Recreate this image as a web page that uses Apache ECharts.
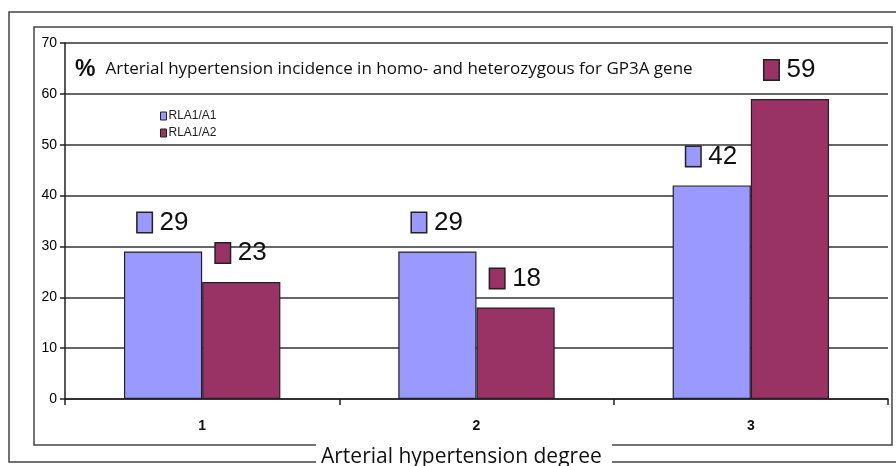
<!DOCTYPE html>
<html><head><meta charset="utf-8">
<script src="https://cdn.jsdelivr.net/npm/echarts@6/dist/echarts.min.js"></script>
<style>html,body{margin:0;padding:0;background:#fff}#c{width:896px;height:466px}</style>
</head><body><div id="c"></div>
<script>
const categories = ['1', '2', '3'];
const seriesNames = ['RLA1/A1', 'RLA1/A2'];
const valuesA1 = [29, 29, 42];
const valuesA2 = [23, 18, 59];
const yTicks = [0, 10, 20, 30, 40, 50, 60, 70];
const titleText = 'Arterial hypertension incidence in homo- and heterozygous for GP3A gene';
const xName = 'Arterial hypertension degree';
const colors = ['#9999FF', '#993366'];

const chart = echarts.init(document.getElementById('c'), null, {renderer: 'canvas'});
function lbl(i) {
  return {
    show: true, position: 'top', distance: 16,
    formatter: p => '{s|}{v|' + p.value + '}',
    rich: {
      s: {width: 14, height: 19, backgroundColor: colors[i], borderColor: '#222', borderWidth: 1.5},
      v: {fontSize: 26, fontFamily: 'Liberation Sans', color: '#111', padding: [0, 0, 0, 8], lineHeight: 26}
    }
  };
}
const frameStyle = {stroke: '#444', lineWidth: 1.5, fill: null};
chart.setOption({
  animation: false,
  backgroundColor: '#fff',
  title: {
    left: 70, top: 53,
    text: '{p|%}  {t|' + titleText + '}',
    textStyle: {
      fontWeight: 'normal',
      rich: {
        p: {fontSize: 23, fontWeight: 'bold', fontFamily: 'Liberation Sans', color: '#111'},
        t: {fontSize: 17, fontWeight: 'normal', fontFamily: 'Open Sans', color: '#111'}
      }
    }
  },
  legend: {
    orient: 'vertical', left: 155, top: 105, itemWidth: 6, itemHeight: 8, itemGap: 5,
    icon: 'rect',
    textStyle: {fontSize: 12, fontFamily: 'Liberation Sans', color: '#222', padding: [0, 0, 0, -3]},
    itemStyle: {borderColor: '#222', borderWidth: 1}
  },
  grid: {left: 65, right: 8, top: 43, bottom: 67},
  xAxis: {
    type: 'category', data: categories,
    axisLine: {lineStyle: {color: '#222', width: 1.5}},
    axisTick: {show: true, length: 6, lineStyle: {color: '#222', width: 1.5}},
    axisLabel: {fontSize: 14, fontWeight: 'bold', fontFamily: 'Liberation Sans', color: '#111', margin: 20}
  },
  yAxis: {
    type: 'value', min: yTicks[0], max: yTicks[yTicks.length - 1], interval: 10,
    axisLine: {show: true, lineStyle: {color: '#222', width: 1.5}},
    axisTick: {show: true, length: 5, lineStyle: {color: '#222', width: 1.5}},
    axisLabel: {fontSize: 14, fontFamily: 'Liberation Sans', color: '#000', margin: 8},
    splitLine: {lineStyle: {color: '#333', width: 1.5}}
  },
  series: [
    {name: seriesNames[0], type: 'bar', data: valuesA1, barWidth: '28.5%', barGap: '0%',
     itemStyle: {color: colors[0], borderColor: '#222', borderWidth: 1.2}, label: lbl(0)},
    {name: seriesNames[1], type: 'bar', data: valuesA2, barWidth: '28.5%', barGap: '0%',
     itemStyle: {color: colors[1], borderColor: '#222', borderWidth: 1.2}, label: lbl(1)}
  ],
  graphic: [
    {type: 'polyline', shape: {points: [[316, 462], [9, 462], [9, 12], [900, 12]]}, style: frameStyle},
    {type: 'polyline', shape: {points: [[612, 462], [900, 462]]}, style: frameStyle},
    {type: 'polyline', shape: {points: [[316, 445], [34, 445], [34, 27], [892, 27], [892, 445], [612, 445]]}, style: frameStyle},
    {type: 'text', left: 321, top: 447, style: {text: xName, fontSize: 21, fontFamily: 'Open Sans', fill: '#111'}}
  ]
});
</script></body></html>
